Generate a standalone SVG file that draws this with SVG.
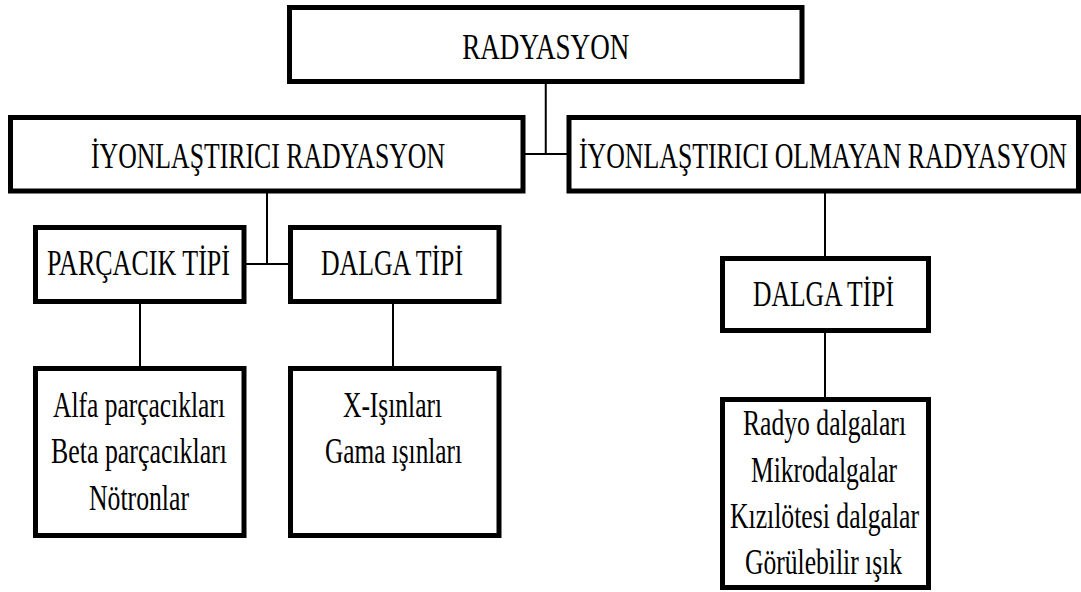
<svg xmlns="http://www.w3.org/2000/svg" width="1081" height="592" viewBox="0 0 1081 592">
<style>
.box{fill:#fff;stroke:#000;stroke-width:5}
.t{font-family:'Liberation Serif','DejaVu Serif',serif;font-size:36px;fill:#000;text-anchor:middle}
.c{stroke:#000;stroke-width:2;fill:none}
</style>
<rect width="1081" height="592" fill="#fff"/>
<g id="connectors">
<path class="c" d="M545.75 81.5V154M523 154H569"/>
<path class="c" d="M267 191V264M244 264H290.5"/>
<path class="c" d="M140 301.5V368.5"/>
<path class="c" d="M393 301.5V368.5"/>
<path class="c" d="M825 191V258.5M825 330.5V399.5"/>
</g>
<g id="radyasyon">
<rect class="box" x="289.5" y="7.5" width="512.5" height="74"/>
<text class="t" x="545.75" y="59" textLength="167" lengthAdjust="spacingAndGlyphs">RADYASYON</text>
</g>
<g id="iyonlastirici">
<rect class="box" x="10.5" y="117.5" width="512.5" height="73.5"/>
<text class="t" x="268" y="168" textLength="354" lengthAdjust="spacingAndGlyphs">İYONLAŞTIRICI RADYASYON</text>
</g>
<g id="iyonlastirici-olmayan">
<rect class="box" x="569" y="117.5" width="509.5" height="73.5"/>
<text class="t" x="823" y="168" textLength="488" lengthAdjust="spacingAndGlyphs">İYONLAŞTIRICI OLMAYAN RADYASYON</text>
</g>
<g id="parcacik-tipi">
<rect class="box" x="35.5" y="227.5" width="208.5" height="74"/>
<text class="t" x="138.5" y="275" textLength="183" lengthAdjust="spacingAndGlyphs">PARÇACIK TİPİ</text>
</g>
<g id="dalga-tipi-1">
<rect class="box" x="290.5" y="227.5" width="208.5" height="74"/>
<text class="t" x="392" y="275" textLength="142" lengthAdjust="spacingAndGlyphs">DALGA TİPİ</text>
</g>
<g id="parcacik-list">
<rect class="box" x="35.5" y="368.5" width="208.5" height="167"/>
<text class="t" x="139" y="417" textLength="172" lengthAdjust="spacingAndGlyphs">Alfa parçacıkları</text>
<text class="t" x="139" y="463" textLength="176" lengthAdjust="spacingAndGlyphs">Beta parçacıkları</text>
<text class="t" x="139" y="510" textLength="100" lengthAdjust="spacingAndGlyphs">Nötronlar</text>
</g>
<g id="dalga-list-1">
<rect class="box" x="290.5" y="368.5" width="208.5" height="167"/>
<text class="t" x="392.5" y="417" textLength="99" lengthAdjust="spacingAndGlyphs">X-Işınları</text>
<text class="t" x="393.5" y="463" textLength="137" lengthAdjust="spacingAndGlyphs">Gama ışınları</text>
</g>
<g id="dalga-tipi-2">
<rect class="box" x="722.5" y="258.5" width="206" height="72"/>
<text class="t" x="823.5" y="306" textLength="141" lengthAdjust="spacingAndGlyphs">DALGA TİPİ</text>
</g>
<g id="dalga-list-2">
<rect class="box" x="722.5" y="399.5" width="206" height="188"/>
<text class="t" x="824.5" y="435" textLength="163" lengthAdjust="spacingAndGlyphs">Radyo dalgaları</text>
<text class="t" x="824" y="482" textLength="146" lengthAdjust="spacingAndGlyphs">Mikrodalgalar</text>
<text class="t" x="824.5" y="528" textLength="189" lengthAdjust="spacingAndGlyphs">Kızılötesi dalgalar</text>
<text class="t" x="823.5" y="574" textLength="157" lengthAdjust="spacingAndGlyphs">Görülebilir ışık</text>
</g>
</svg>
